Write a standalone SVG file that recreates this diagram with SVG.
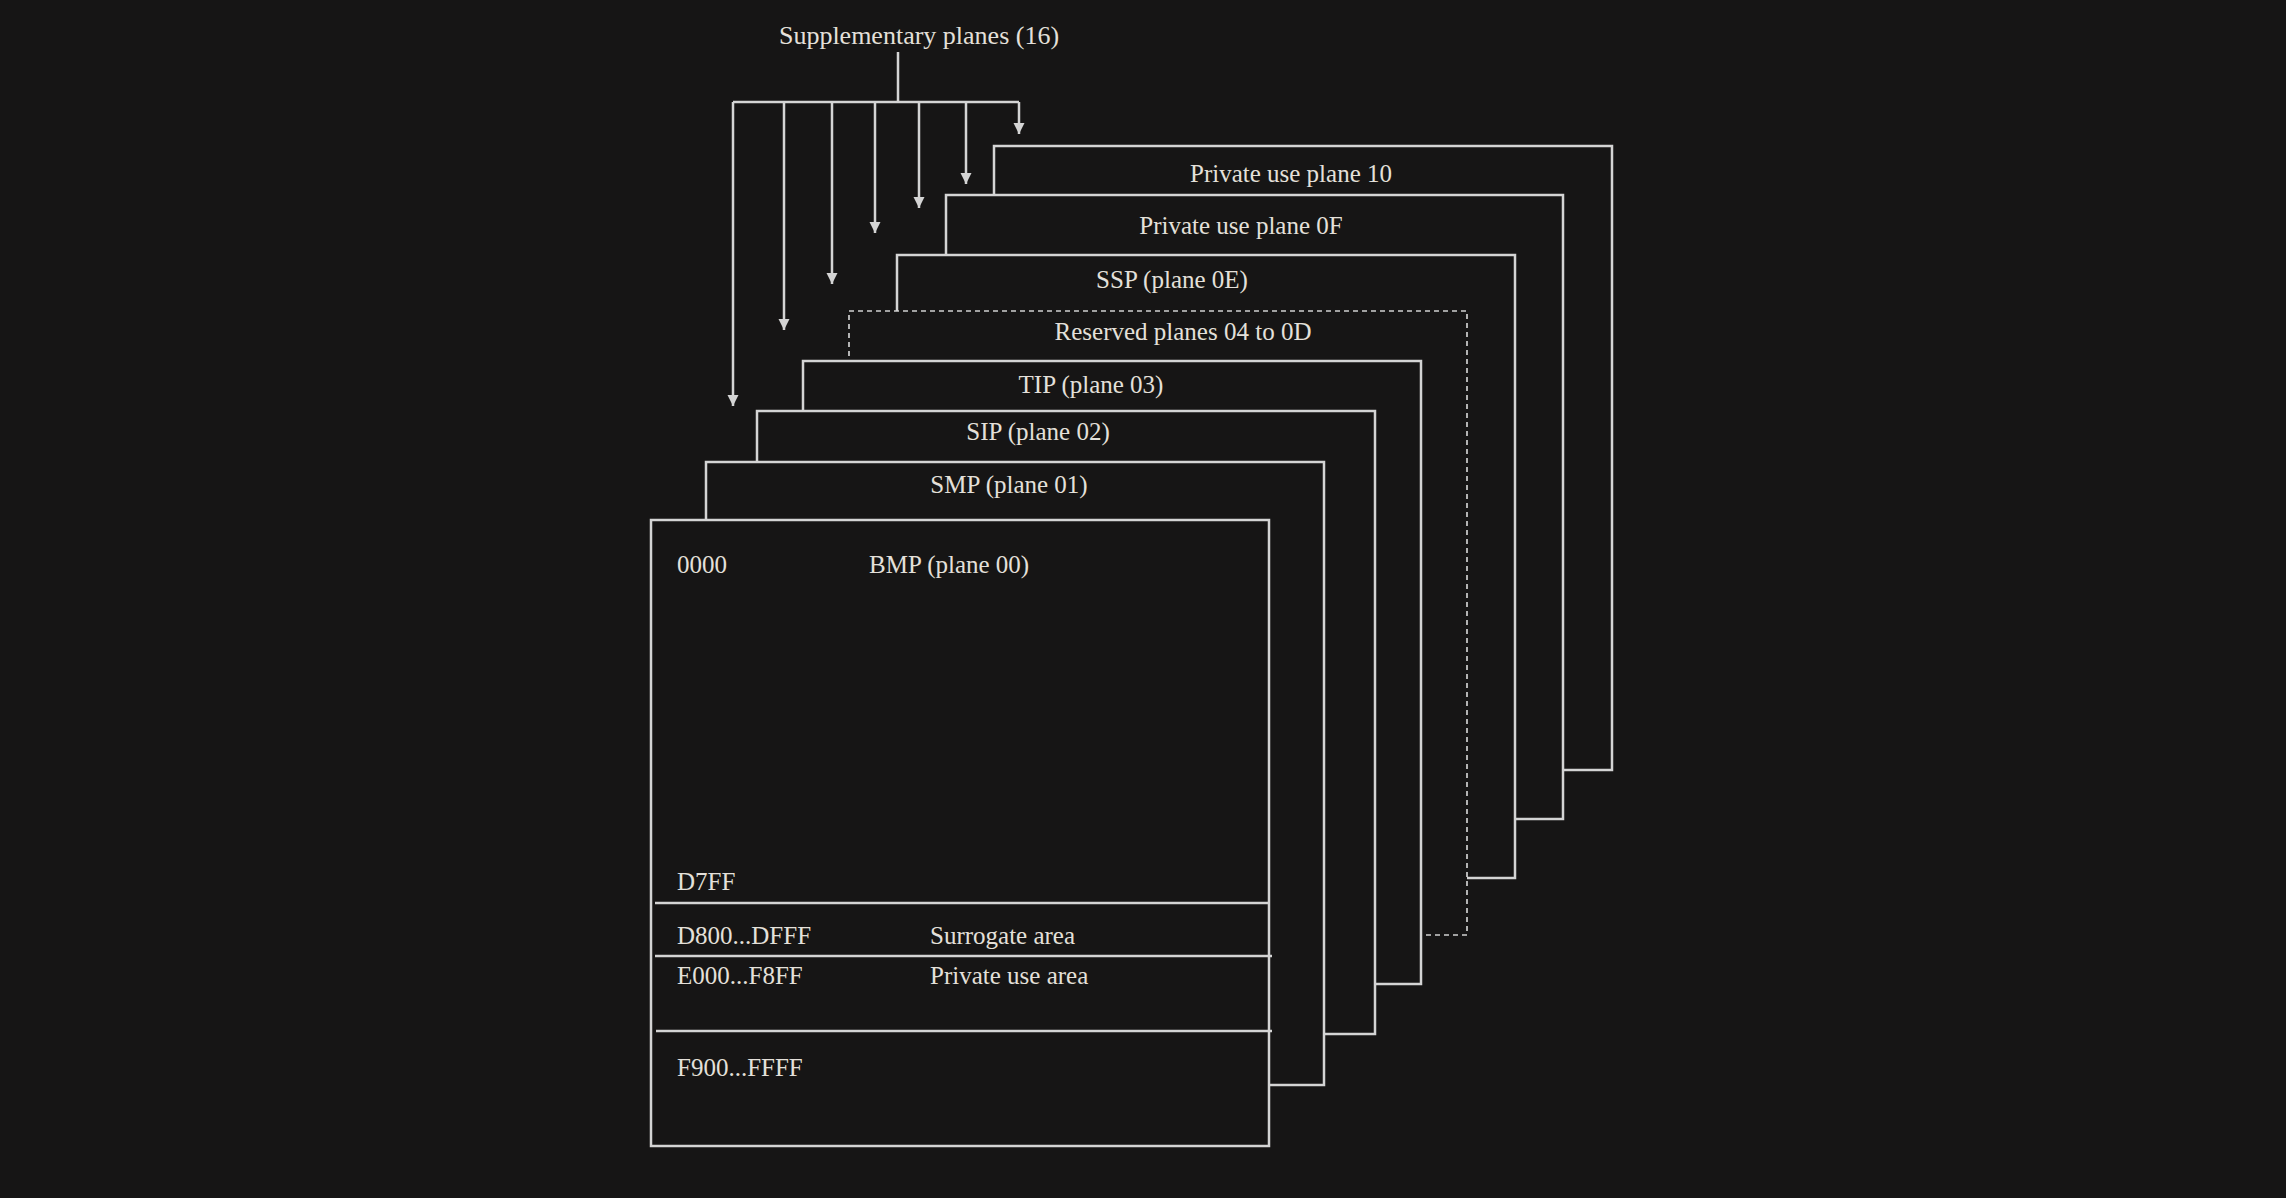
<svg xmlns="http://www.w3.org/2000/svg" width="2286" height="1198" viewBox="0 0 2286 1198">
<style>
.bg{fill:#161515}
.box{fill:#161515;stroke:#d4d4d4;stroke-width:2.5}
.dash{fill:#161515;stroke:#cfcfcf;stroke-width:1.7;stroke-dasharray:5 4}
.ln{fill:none;stroke:#d4d4d4;stroke-width:2.5}
.t{font-family:"Liberation Serif","DejaVu Serif",serif;font-size:25px;fill:#e4e0da}
.c{text-anchor:middle}
</style>
<defs>
<marker id="ah" viewBox="0 0 10 10" refX="10" refY="5" markerWidth="4.5" markerHeight="4.5" orient="auto" markerUnits="strokeWidth">
<path d="M0,0 L10,5 L0,10 z" fill="#d4d4d4"/>
</marker>
</defs>
<rect class="bg" x="0" y="0" width="2286" height="1198"/>
<g id="title">
<text class="t c" x="919" y="44" style="font-size:26px">Supplementary planes (16)</text>
</g>
<g id="connectors">
<path class="ln" d="M898,52 V102 M733,102 H1019"/>
<path class="ln" marker-end="url(#ah)" d="M1019,102 V134"/>
<path class="ln" marker-end="url(#ah)" d="M966,102 V184"/>
<path class="ln" marker-end="url(#ah)" d="M919,102 V208"/>
<path class="ln" marker-end="url(#ah)" d="M875,102 V233"/>
<path class="ln" marker-end="url(#ah)" d="M832,102 V284"/>
<path class="ln" marker-end="url(#ah)" d="M784,102 V330"/>
<path class="ln" marker-end="url(#ah)" d="M733,102 V406"/>
</g>
<g id="plane10">
<rect class="box" x="994" y="146" width="618" height="624"/>
<text class="t c" x="1291" y="182">Private use plane 10</text>
</g>
<g id="plane0F">
<rect class="box" x="946" y="195" width="617" height="624"/>
<text class="t c" x="1241" y="234">Private use plane 0F</text>
</g>
<g id="plane0E">
<rect class="box" x="897" y="255" width="618" height="623"/>
<text class="t c" x="1172" y="288">SSP (plane 0E)</text>
</g>
<g id="reserved">
<rect class="dash" x="849" y="311" width="618" height="624"/>
<text class="t c" x="1183" y="340">Reserved planes 04 to 0D</text>
</g>
<g id="plane03">
<rect class="box" x="803" y="361" width="618" height="623"/>
<text class="t c" x="1091" y="393">TIP (plane 03)</text>
</g>
<g id="plane02">
<rect class="box" x="757" y="411" width="618" height="623"/>
<text class="t c" x="1038" y="440">SIP (plane 02)</text>
</g>
<g id="plane01">
<rect class="box" x="706" y="462" width="618" height="623"/>
<text class="t c" x="1009" y="493">SMP (plane 01)</text>
</g>
<g id="plane00">
<rect class="box" x="651" y="520" width="618" height="626"/>
<path class="ln" d="M655,903 H1269 M655,956 H1272 M656,1031 H1272"/>
<text class="t" x="677" y="573">0000</text>
<text class="t" x="869" y="573">BMP (plane 00)</text>
<text class="t" x="677" y="890">D7FF</text>
<text class="t" x="677" y="944">D800...DFFF</text>
<text class="t" x="930" y="944">Surrogate area</text>
<text class="t" x="677" y="984">E000...F8FF</text>
<text class="t" x="930" y="984">Private use area</text>
<text class="t" x="677" y="1076">F900...FFFF</text>
</g>
</svg>
